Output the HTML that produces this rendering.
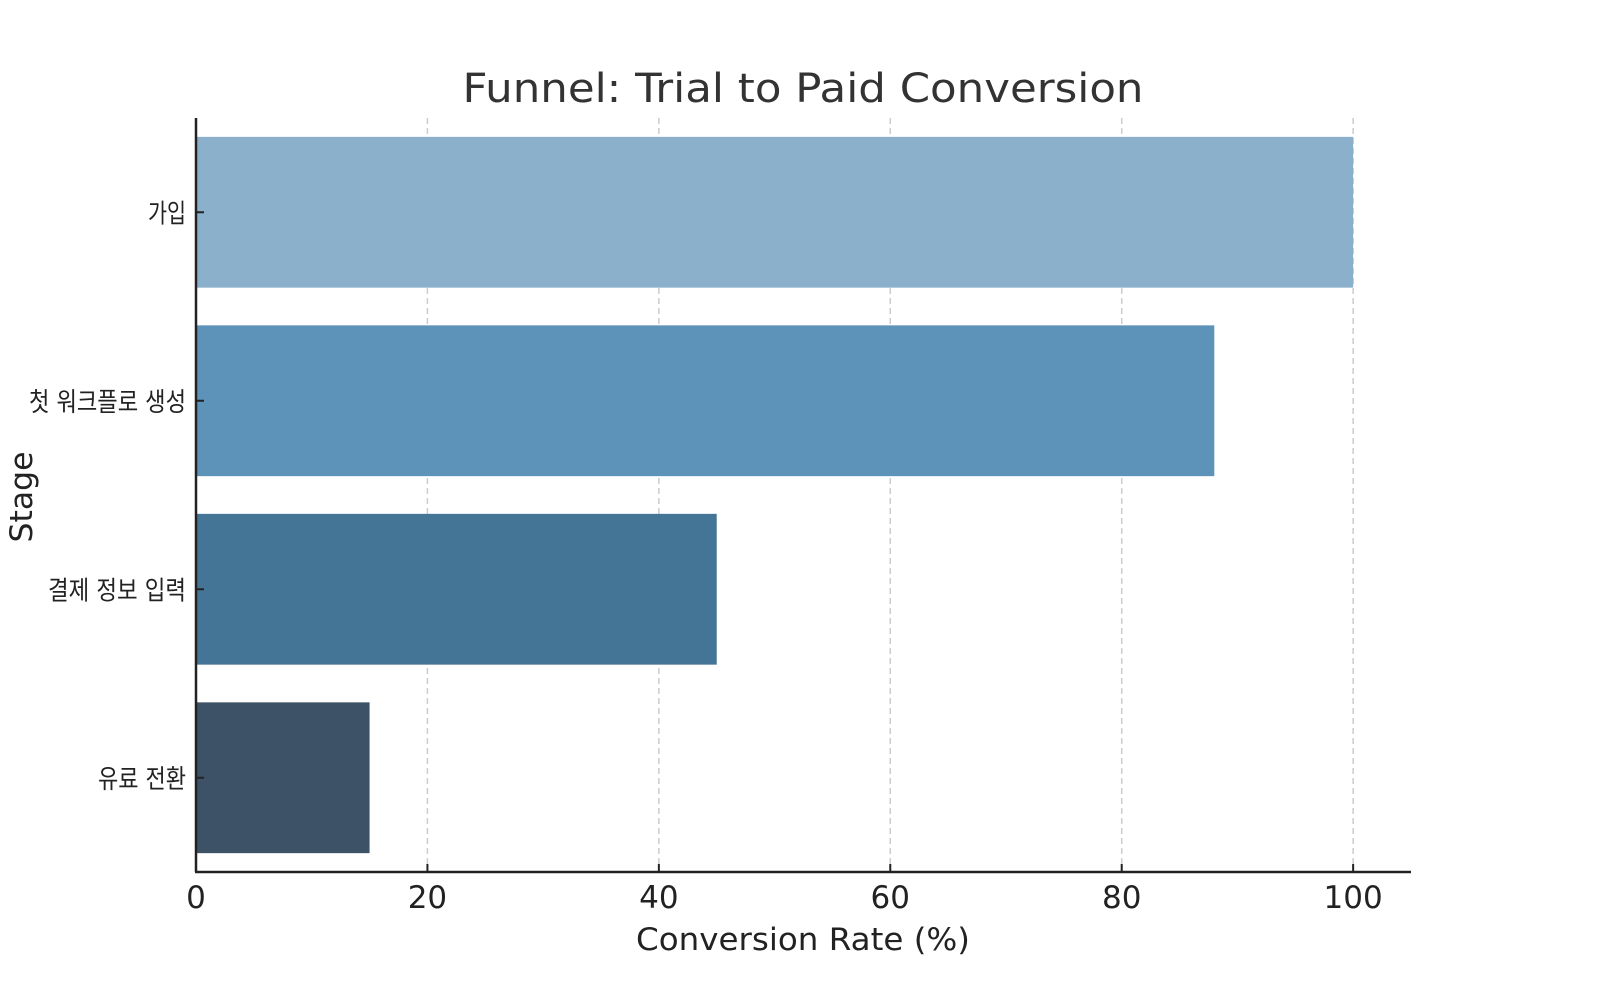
<!DOCTYPE html>
<html><head><meta charset="utf-8"><style>body{margin:0;background:#fff}svg{display:block}</style></head>
<body>
<svg id="chart" width="1600" height="1000" xmlns="http://www.w3.org/2000/svg" font-family="'DejaVu Sans','Liberation Sans','Noto Sans CJK KR',sans-serif">
<rect width="1600" height="1000" fill="#fff"/>
<text x="803" y="102" text-anchor="middle" font-size="40" fill="#333" textLength="681" lengthAdjust="spacingAndGlyphs">Funnel: Trial to Paid Conversion</text>
<g id="grid"></g><g id="bars"></g><g id="axes"></g>
<text x="803" y="950" text-anchor="middle" font-size="31" fill="#222" textLength="334" lengthAdjust="spacingAndGlyphs">Conversion Rate (%)</text>
<text transform="translate(32,497) rotate(-90)" text-anchor="middle" font-size="31" fill="#222" textLength="91" lengthAdjust="spacingAndGlyphs">Stage</text>
</svg>
<script>
const categories = ["가입", "첫 워크플로 생성", "결제 정보 입력", "유료 전환"];
const values = [100, 88, 45, 15];
const colors = ["#8AB0CB", "#5D93B9", "#457596", "#3D5266"];
const xTicks = [0, 20, 40, 60, 80, 100];
const NS = "http://www.w3.org/2000/svg";
const L = 196, R = 1411, T = 118, B = 872, XMAX = 105;
const x = v => L + (R - L) * v / XMAX;
const band = (B - T) / categories.length;
const yc = i => T + band * (i + 0.5);
function mk(tag, attrs, parent) { const e = document.createElementNS(NS, tag); for (const k in attrs) e.setAttribute(k, attrs[k]); parent.appendChild(e); return e; }
const grid = document.getElementById('grid'), bars = document.getElementById('bars'), axes = document.getElementById('axes');
xTicks.forEach(t => {
  const g = mk('line', {x1: x(t), x2: x(t), y1: T, y2: B, stroke: '#ccc', 'stroke-width': 1.5, 'stroke-dasharray': '6,4'}, grid);
  
  
  const tk = mk('line', {x1: x(t), x2: x(t), y1: B, y2: B - 8, stroke: '#222', 'stroke-width': 2}, axes);
  
  
  const lb = mk('text', {x: x(t), y: B + 36, 'text-anchor': 'middle', 'font-size': 31, fill: '#222'}, axes);
  lb.textContent = t;
  
  
});
categories.forEach((c, i) => {
  const h = band * 0.8;
  const r = mk('rect', {x: L, y: yc(i) - h / 2, width: x(values[i]) - L, height: h, fill: colors[i]}, bars);
  
  
  const tk = mk('line', {x1: L, x2: L + 8, y1: yc(i), y2: yc(i), stroke: '#222', 'stroke-width': 2}, axes);
  
  
  const chars = c.replace(/ /g, '').length, spaces = c.length - chars;
  const lb = mk('text', {x: L - 10, y: yc(i) + 10, 'text-anchor': 'end', 'font-size': 26, fill: '#222', textLength: chars * 19 + spaces * 12, lengthAdjust: 'spacingAndGlyphs'}, axes);
  lb.textContent = c;
  
  
});
const ya = mk('line', {x1: L, x2: L, y1: T, y2: B, stroke: '#222', 'stroke-width': 2.5}, axes);


const xa = mk('line', {x1: L - 1, x2: R, y1: B, y2: B, stroke: '#222', 'stroke-width': 2.5}, axes);


</script>
</body></html>
